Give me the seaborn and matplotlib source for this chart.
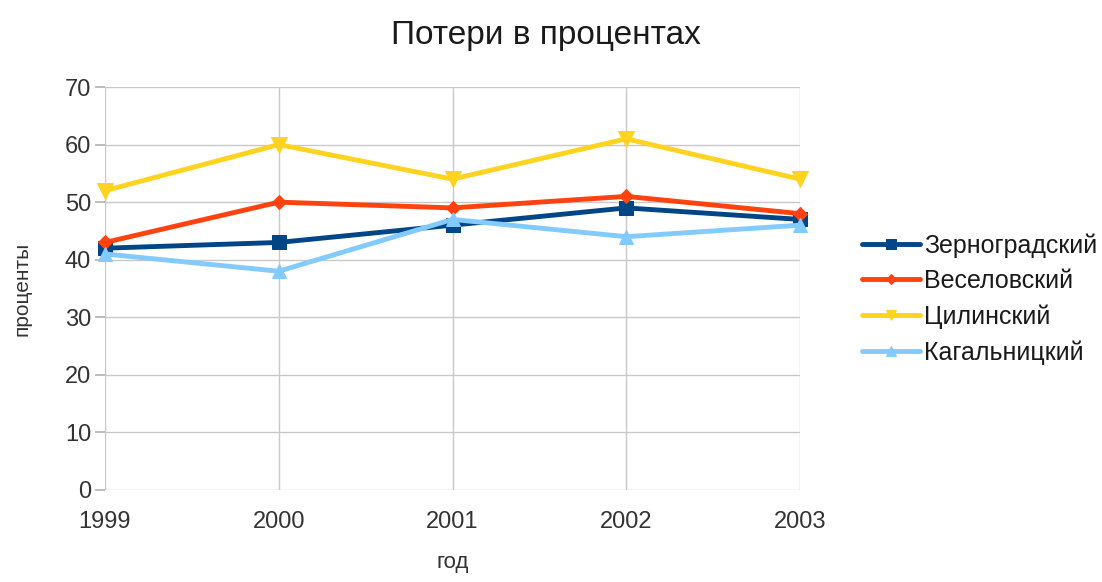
import matplotlib
matplotlib.use("Agg")
import matplotlib.pyplot as plt
import seaborn as sns
import pandas as pd

years = [1999, 2000, 2001, 2002, 2003]
zernograd = [42, 43, 46, 49, 47]
veselovsky = [43, 50, 49, 51, 48]
tsilinsky = [52, 60, 54, 61, 54]
kagalnitsky = [41, 38, 47, 44, 46]
series_names = ["Зерноградский", "Веселовский", "Цилинский", "Кагальницкий"]
series_values = [zernograd, veselovsky, tsilinsky, kagalnitsky]
colors = ["#004586", "#ff420e", "#ffd320", "#83caff"]
markers = ["s", "D", "v", "^"]
msizes = [10, 7, 11, 10]

rows = []
for name, vals in zip(series_names, series_values):
    for y, v in zip(years, vals):
        rows.append({"год": y, "проценты": v, "series": name})
df = pd.DataFrame(rows)

sns.set_theme(style="white")
plt.rcParams['font.family'] = ['Liberation Sans', 'DejaVu Sans']

fig = plt.figure(figsize=(11.02, 5.82), dpi=100)
ax = fig.add_axes([105/1102, 1-490/582, (800-105)/1102, (490-87)/582])

for name, c, m, ms in zip(series_names, colors, markers, msizes):
    sub = df[df["series"] == name]
    sns.lineplot(data=sub, x="год", y="проценты", ax=ax, color=c, marker=m,
                 markersize=ms, markeredgecolor=c, linewidth=3.5, label=name)
for ln in ax.get_lines():
    ln.set_clip_on(False)

ax.set_xlim(1999, 2003)
ax.set_ylim(0, 70)
ax.set_yticks(range(0, 71, 10))
ax.set_xticks(years)
ax.set_xticklabels([str(y) for y in years])
ax.grid(True, color="#c8c8c8", linewidth=1)
for s in ax.spines.values():
    s.set_visible(False)
ax.tick_params(axis="y", length=7, color="#b3b3b3", labelsize=17, pad=3, left=True)
ax.tick_params(axis="x", length=0, labelsize=17, pad=15)
for lab in ax.get_xticklabels() + ax.get_yticklabels():
    lab.set_color("#333333")
ax.set_xlabel("год", fontsize=16, labelpad=14, color="#333333")
ax.set_ylabel("проценты", fontsize=15, labelpad=24, color="#333333")
fig.suptitle("Потери в процентах", fontsize=24, y=0.965, x=0.495, color="#1a1a1a")

leg = ax.legend(loc="center left", bbox_to_anchor=((862-105)/695, 0.474), frameon=False,
                fontsize=18, handlelength=2.3, handletextpad=0.2, labelspacing=0.45,
                markerscale=0.7, borderaxespad=0, borderpad=0)
for t in leg.get_texts():
    t.set_color("#1a1a1a")

fig.savefig("out.png", dpi=100)
